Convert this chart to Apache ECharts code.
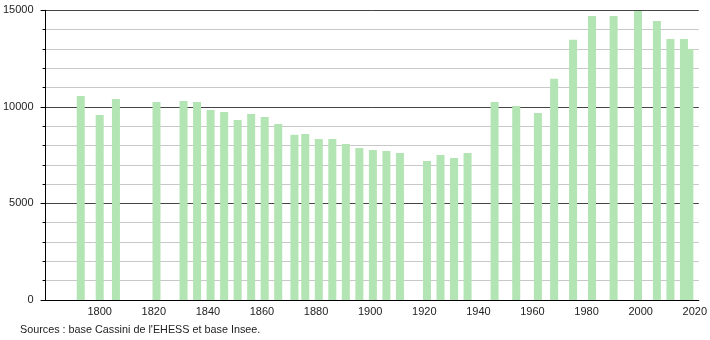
<!DOCTYPE html>
<html>
<head>
<meta charset="utf-8">
<script src="https://cdn.jsdelivr.net/npm/echarts@6/dist/echarts.min.js"></script>
<style>html,body{margin:0;padding:0;background:#fff}#c{width:710px;height:340px}</style>
</head>
<body>
<div id="c"></div>
<script>
// Census years (2018 listed before 2016 so the 2016 bar is drawn on top, as in the reference)
var years = [1793,1800,1806,1821,1831,1836,1841,1846,1851,1856,1861,1866,1872,1876,1881,1886,1891,1896,1901,1906,1911,1921,1926,1931,1936,1946,1954,1962,1968,1975,1982,1990,1999,2006,2011,2018,2016];
var population = [10560,9580,10410,10250,10300,10250,9840,9740,9320,9630,9480,9110,8550,8600,8340,8340,8080,7870,7770,7720,7610,7200,7510,7350,7610,10250,10050,9680,11450,13470,14710,14710,14970,14450,13520,13000,13520];
var xTickLabels = ['1800','1820','1840','1860','1880','1900','1920','1940','1960','1980','2000','2020'];
var yTickLabels = ['0','5000','10000','15000'];
var sourceText = "Sources : base Cassini de l'EHESS et base Insee.";

var font = '"Liberation Sans", Arial, sans-serif';
var chart = echarts.init(document.getElementById('c'), null, {renderer: 'canvas'});
var data = years.map(function (y, i) { return [y, population[i]]; });

chart.setOption({
  animation: false,
  grid: {left: 44, right: 9.5, top: 10.3, bottom: 40, containLabel: false},
  xAxis: {
    type: 'value', min: 1780, max: 2021.5, interval: 20,
    axisLine: {show: true, lineStyle: {color: '#000', width: 1}},
    axisTick: {show: false},
    splitLine: {show: false},
    axisLabel: {
      margin: 6, color: '#222', fontFamily: font, fontSize: 11,
      showMinLabel: true, showMaxLabel: false,
      formatter: function (v) { var s = String(v); return xTickLabels.indexOf(s) >= 0 ? s : ''; }
    }
  },
  yAxis: [{
    type: 'value', min: 0, max: 15000, interval: 1000, position: 'left',
    axisLine: {show: true, lineStyle: {color: '#000', width: 1}},
    axisTick: {show: true, length: 3, lineStyle: {color: '#000'}},
    axisLabel: {show: false},
    splitLine: {show: true, lineStyle: {color: ['#444', '#c8c8c8', '#c8c8c8', '#c8c8c8', '#c8c8c8'], width: 1}}
  }, {
    type: 'value', min: 0, max: 15000, interval: 5000, position: 'left',
    axisLine: {show: false},
    axisTick: {show: true, length: 5, lineStyle: {color: '#000'}},
    splitLine: {show: false},
    axisLabel: {
      margin: 12, color: '#222', fontFamily: font, fontSize: 11,
      formatter: function (v) { var s = String(v); return yTickLabels.indexOf(s) >= 0 ? s : ''; }
    }
  }],
  series: [{
    type: 'bar', xAxisIndex: 0, yAxisIndex: 0,
    data: data, barWidth: 8,
    itemStyle: {color: '#b3e4b3'}
  }],
  graphic: [{
    type: 'text', left: 20, top: 325,
    style: {text: sourceText, fill: '#222', font: '10.8px "Liberation Sans", Arial, sans-serif'}
  }]
});
</script>
</body>
</html>
